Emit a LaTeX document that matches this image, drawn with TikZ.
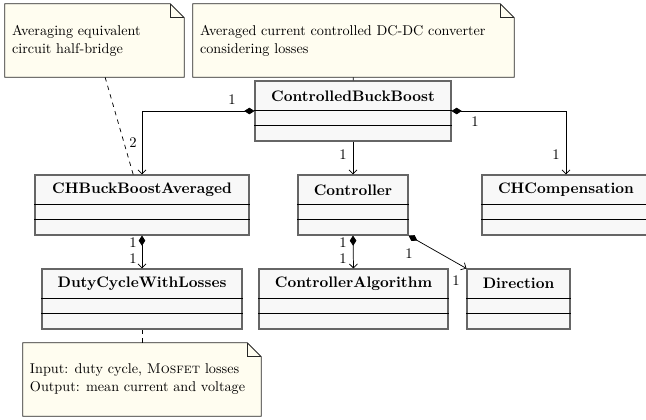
\documentclass[tikz,border=0pt]{standalone}
\usepackage{amsmath}
\usepackage{xcolor}
\usepackage{tikz}
\usetikzlibrary{arrows.meta}

\definecolor{notefill}{RGB}{255,253,240}
\definecolor{classfill}{RGB}{248,248,248}
\newlength\pxu
\setlength\pxu{0.024cm}

\tikzset{
	classbox/.style={draw=black!60, fill=classfill, line width=0.7pt, inner sep=0pt, minimum height=60*\pxu},
	classtitle/.style={anchor=north, inner sep=0pt, minimum height=30*\pxu, font=\fontsize{10.4}{12}\selectfont\bfseries},
	classline/.style={black, line width=0.5pt},
	notebox/.style={inner sep=0pt},
	notedraw/.style={draw=black!85, fill=notefill, line width=0.6pt},
	notetext/.style={anchor=west, align=left, inner sep=0pt, font=\fontsize{9.7}{12.3}\selectfont},
	notelink/.style={dashed, line width=0.5pt},
	assoc/.style={-{Straight Barb[length=2.8pt,width=5.5pt]}, line width=0.5pt},
	compos/.style={{Diamond[length=7pt,width=4.5pt]}-{Straight Barb[length=2.8pt,width=5.5pt]}, line width=0.5pt},
	mult/.style={inner sep=0pt}
}

\newcommand{\umlbox}[5]{%
	\node[classbox, minimum width=#4*\pxu] (#1) at (#2,#3+30) {};
	\node[classtitle] (#1-title) at (#1.north) {#5};
	\draw[classline] ([yshift=-30*\pxu]#1.north west) -- ([yshift=-30*\pxu]#1.north east);
	\draw[classline] ([yshift=-45*\pxu]#1.north west) -- ([yshift=-45*\pxu]#1.north east);
}

\newcommand{\umlnotebox}[6]{%
	\node[notebox, minimum width={(#4-#2)*\pxu}, minimum height={(#5-#3)*\pxu}] (#1) at ({(#2+#4)/2},{(#3+#5)/2}) {};
	\filldraw[notedraw] (#1.south west) -- (#1.north west) -- ([xshift=-14*\pxu]#1.north east) -- ([yshift=-14*\pxu]#1.north east) -- (#1.south east) -- cycle;
	\draw[notedraw, fill=none] ([xshift=-14*\pxu]#1.north east) |- ([yshift=-14*\pxu]#1.north east);
	\node[notetext] (#1-text) at ([xshift=7*\pxu]#1.west) {#6};
}

\begin{document}
\begin{tikzpicture}[x=0.024cm, y=-0.024cm]
		\useasboundingbox (0,0) rectangle (646,419);
		\umlnotebox{n1}{5}{4}{184}{77}{Averaging equivalent\\circuit half-bridge}
		\umlnotebox{n2}{193}{4}{514}{77}{Averaged current controlled DC-DC converter\\considering losses}
		\umlnotebox{n3}{23}{343}{261}{416}{Input: duty cycle, \textsc{Mosfet} losses\\Output: mean current and voltage}

		\umlbox{cbb}{353}{81}{196}{ControlledBuckBoost}
		\umlbox{cha}{142}{175}{214}{CHBuckBoostAveraged}
		\umlbox{ctrl}{353}{175}{110}{Controller}
		\umlbox{cch}{566}{175}{168}{CHCompensation}
		\umlbox{duty}{142}{269}{200}{DutyCycleWithLosses}
		\umlbox{calg}{353.5}{269}{189}{ControllerAlgorithm}
		\umlbox{dir}{518.5}{269}{103}{Direction}

		\draw[notelink] (n1) -- (cha);
		\draw[notelink] (n2) -- (cbb);
		\draw[notelink] (n3) -- (duty);

		\draw[compos] (cbb.west) -| (cha.north);
		\draw[compos] (cbb.east) -| (cch.north);
		\draw[assoc] (cbb.south) -- (ctrl.north);
		\draw[compos] (cha.south) -- (duty.north);
		\draw[compos] (ctrl.south) -- (calg.north);
		\draw[compos] (ctrl.south east) -- (dir.north west);

		\node[mult] (m1) at (232,100) {1};
		\node[mult] (m2) at (133,143) {2};
		\node[mult] (m3) at (475,122) {1};
		\node[mult] (m4) at (556,155) {1};
		\node[mult] (m5) at (343,155) {1};
		\node[mult] (m6) at (133,243) {1};
		\node[mult] (m7) at (133,259) {1};
		\node[mult] (m8) at (343,243) {1};
		\node[mult] (m9) at (343,259) {1};
		\node[mult] (m10) at (409,254) {1};
		\node[mult] (m11) at (456,281) {1};
\end{tikzpicture}
\end{document}
